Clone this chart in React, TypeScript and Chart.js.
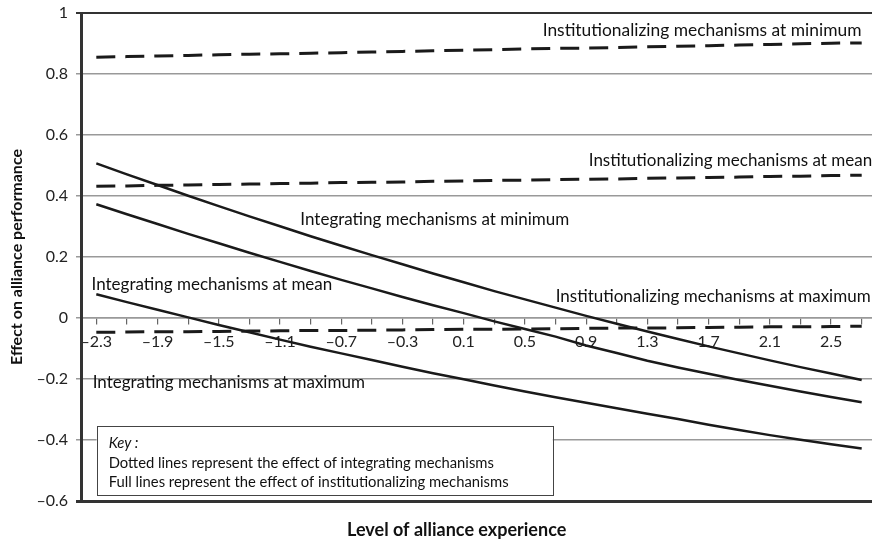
import React, { useEffect, useRef } from "react";
import { Chart, registerables } from "chart.js";

Chart.register(...registerables);

// Level of alliance experience (categories, step 0.2)
const experience = [
  -2.3, -2.1, -1.9, -1.7, -1.5, -1.3, -1.1, -0.9, -0.7, -0.5, -0.3, -0.1, 0.1,
  0.3, 0.5, 0.7, 0.9, 1.1, 1.3, 1.5, 1.7, 1.9, 2.1, 2.3, 2.5, 2.7,
];

// Dashed lines
const institMinimum = [
  0.855, 0.857, 0.859, 0.861, 0.863, 0.865, 0.866, 0.868, 0.87, 0.872, 0.874,
  0.876, 0.878, 0.88, 0.882, 0.884, 0.885, 0.887, 0.889, 0.891, 0.893, 0.895,
  0.897, 0.899, 0.901, 0.902,
];
const institMean = [
  0.432, 0.433, 0.435, 0.436, 0.438, 0.439, 0.441, 0.442, 0.444, 0.445, 0.446,
  0.448, 0.449, 0.451, 0.452, 0.454, 0.455, 0.456, 0.458, 0.459, 0.461, 0.462,
  0.464, 0.465, 0.467, 0.468,
];
const institMaximum = [
  -0.047, -0.046, -0.045, -0.045, -0.044, -0.043, -0.042, -0.041, -0.041, -0.04,
  -0.039, -0.038, -0.037, -0.037, -0.036, -0.035, -0.034, -0.033, -0.033,
  -0.032, -0.031, -0.03, -0.029, -0.029, -0.028, -0.027,
];

// Solid lines
const integMinimum = [
  0.507, 0.471, 0.436, 0.401, 0.367, 0.333, 0.301, 0.268, 0.237, 0.206, 0.176,
  0.146, 0.117, 0.088, 0.061, 0.034, 0.007, -0.019, -0.044, -0.069, -0.093,
  -0.116, -0.139, -0.161, -0.182, -0.203,
];
const integMean = [
  0.373, 0.34, 0.308, 0.276, 0.245, 0.214, 0.184, 0.154, 0.125, 0.097, 0.069,
  0.042, 0.016, -0.011, -0.036, -0.061, -0.09, -0.115, -0.14, -0.162, -0.183,
  -0.203, -0.222, -0.241, -0.259, -0.276,
];
const integMaximum = [
  0.078, 0.052, 0.027, 0.002, -0.023, -0.047, -0.071, -0.094, -0.116, -0.138,
  -0.16, -0.181, -0.201, -0.221, -0.241, -0.26, -0.278, -0.296, -0.314, -0.331,
  -0.35, -0.367, -0.384, -0.399, -0.414, -0.428,
];

// y axis range
const yMin = -0.6;
const yMax = 1;
const yStep = 0.2;

const lineLabels = [
  { text: "Institutionalizing mechanisms at minimum", x: 0.616, y: 0.943, size: 17.4 },
  { text: "Institutionalizing mechanisms at mean", x: 0.917, y: 0.517, size: 17 },
  { text: "Integrating mechanisms at minimum", x: -0.967, y: 0.323, size: 17 },
  { text: "Integrating mechanisms at mean", x: -2.331, y: 0.11, size: 17 },
  { text: "Institutionalizing mechanisms at maximum", x: 0.701, y: 0.069, size: 17 },
  { text: "Integrating mechanisms at maximum", x: -2.324, y: -0.211, size: 17 },
];

const keyTitle = "Key :";
const keyLines = [
  "Dotted lines represent the effect of integrating mechanisms",
  "Full lines represent the effect of institutionalizing mechanisms",
];

const xTitle = "Level of alliance experience";
const yTitle = "Effect on alliance performance";

const FONT = "Lato, 'Open Sans', sans-serif";
const INK = "#1a1a1a";

function fmt(v: number): string {
  const r = Math.round(v * 10) / 10;
  if (r === 0) return "0";
  if (r === 1) return "1";
  const s = Math.abs(r).toFixed(1);
  return r < 0 ? "\u2013" + s : s;
}

const annotationPlugin = {
  id: "annotations",
  afterDatasetsDraw(chart: any) {
    const { ctx, scales } = chart;
    const x = scales.x;
    const y = scales.y;
    const p0 = x.getPixelForValue(0);
    const step = x.getPixelForValue(1) - p0;
    const px = (v: number) => p0 + ((v - experience[0]) / 0.2) * step;
    const py = (v: number) => y.getPixelForValue(v);

    ctx.save();
    ctx.fillStyle = "#111";
    ctx.textBaseline = "middle";
    ctx.textAlign = "left";
    for (const l of lineLabels) {
      ctx.font = `${l.size}px ${FONT}`;
      ctx.fillText(l.text, px(l.x), py(l.y));
    }

    // key box
    const bx0 = px(-2.298);
    const bx1 = px(0.682);
    const by0 = py(-0.355);
    const by1 = py(-0.581);
    ctx.fillStyle = "#fff";
    ctx.fillRect(bx0, by0, bx1 - bx0, by1 - by0);
    ctx.strokeStyle = "#444";
    ctx.lineWidth = 1;
    ctx.strokeRect(
      Math.round(bx0) + 0.5,
      Math.round(by0) + 0.5,
      Math.round(bx1 - bx0),
      Math.round(by1 - by0)
    );
    ctx.fillStyle = "#111";
    ctx.font = `italic 14.8px ${FONT}`;
    ctx.fillText(keyTitle, px(-2.219), py(-0.411));
    ctx.font = `14.8px ${FONT}`;
    ctx.fillText(keyLines[0], px(-2.219), py(-0.476));
    ctx.fillText(keyLines[1], px(-2.219), py(-0.539));

    // x axis title
    ctx.font = `bold 18px ${FONT}`;
    ctx.textAlign = "center";
    ctx.fillText(xTitle, px(0.054), py(-0.696));
    ctx.restore();
  },
};

export default function App() {
  const ref = useRef<HTMLCanvasElement>(null);

  useEffect(() => {
    if (!ref.current) return;
    const dashed = (label: string, data: number[]) => ({
      label,
      data,
      borderColor: INK,
      borderWidth: 3,
      borderDash: [19, 10],
      pointRadius: 0,
      fill: false,
    });
    const solid = (label: string, data: number[]) => ({
      label,
      data,
      borderColor: INK,
      borderWidth: 2.5,
      pointRadius: 0,
      fill: false,
    });
    const chart = new Chart(ref.current, {
      type: "line",
      data: {
        labels: experience.map((v) => fmt(v)),
        datasets: [
          dashed("Institutionalizing mechanisms at minimum", institMinimum),
          dashed("Institutionalizing mechanisms at mean", institMean),
          dashed("Institutionalizing mechanisms at maximum", institMaximum),
          solid("Integrating mechanisms at minimum", integMinimum),
          solid("Integrating mechanisms at mean", integMean),
          solid("Integrating mechanisms at maximum", integMaximum),
        ],
      },
      options: {
        animation: false,
        responsive: false,
        layout: { padding: { top: 13, right: 3, bottom: 40, left: 0 } },
        plugins: {
          legend: { display: false },
          tooltip: { enabled: false },
        },
        elements: { line: { tension: 0 } },
        scales: {
          x: {
            type: "category",
            position: { y: 0 },
            offset: true,
            afterFit: (s: any) => {
              s.paddingTop = 0;
              s.paddingBottom = 0;
              s.paddingLeft = 0;
              s.paddingRight = 0;
            },
            grid: {
              drawOnChartArea: false,
              drawTicks: true,
              tickLength: 6,
              color: "#666",
              lineWidth: 1.2,
            },
            border: { display: true, color: "#999", width: 1.5 },
            ticks: {
              autoSkip: false,
              maxRotation: 0,
              minRotation: 0,
              padding: 8,
              color: "#222",
              font: { family: FONT, size: 16 },
              callback: (_v: any, i: number) =>
                i % 2 === 0 ? fmt(experience[i]) : "",
            },
          },
          y: {
            min: yMin,
            max: yMax,
            afterFit: (s: any) => {
              s.width = 81;
              s.paddingTop = 0;
              s.paddingBottom = 0;
            },
            ticks: {
              stepSize: yStep,
              padding: 8,
              color: "#222",
              font: { family: FONT, size: 16 },
              callback: (v: any) => fmt(Number(v)),
            },
            grid: {
              tickLength: 5,
              color: (c: any) => {
                const v = Math.round((c.tick?.value ?? 0) * 10) / 10;
                return v === yMin || v === yMax ? "#333" : "#999";
              },
              lineWidth: (c: any) => {
                const v = Math.round((c.tick?.value ?? 0) * 10) / 10;
                if (v === yMin) return 3;
                if (v === yMax) return 2;
                return 1.5;
              },
            },
            border: { display: true, color: "#333", width: 3 },
            title: {
              display: true,
              text: yTitle,
              color: "#111",
              font: { family: FONT, size: 16, weight: "bold" },
              padding: { top: 7, bottom: 0 },
            },
          },
        },
      },
      plugins: [annotationPlugin],
    } as any);
    return () => chart.destroy();
  }, []);

  return (
    <div
      style={{
        position: "fixed",
        left: 0,
        top: 0,
        width: 872,
        height: 541,
        overflow: "hidden",
        background: "#fff",
      }}
    >
      <canvas
        ref={ref}
        width={880}
        height={541}
        style={{ display: "block", width: 880, height: 541 }}
      />
    </div>
  );
}
